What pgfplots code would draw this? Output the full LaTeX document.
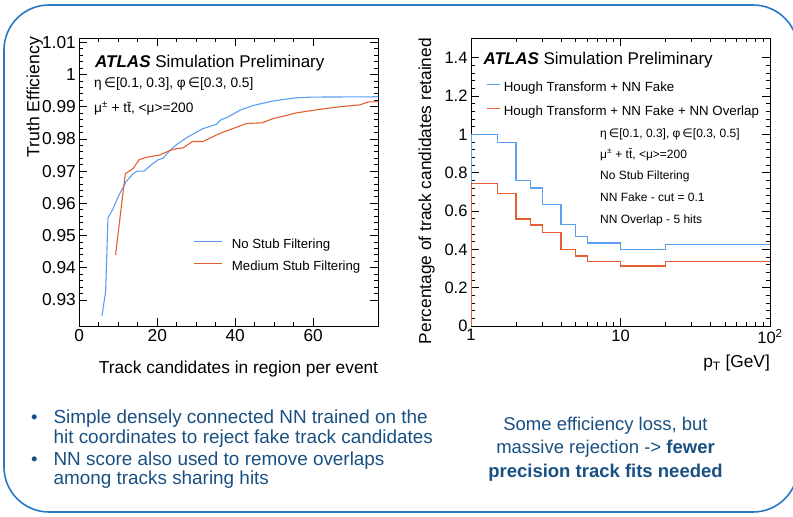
\documentclass[border=0pt]{standalone}
\usepackage{fontspec}
\setmainfont{Liberation Sans}
\newfontfamily\dejavu{DejaVu Sans}
\usepackage{pgfplots}
\pgfplotsset{compat=1.18}
\definecolor{rootblue}{RGB}{90,160,240}
\definecolor{rootred}{RGB}{228,95,48}
\definecolor{slideblue}{RGB}{25,80,130}
\definecolor{framecol}{RGB}{40,120,195}
\newcommand{\fs}[1]{\fontsize{#1}{#1}\selectfont}
\pgfplotsset{rootstyle/.style={
  scale only axis, tick align=inside,
  major tick length=8pt, minor tick length=4pt,
  axis line style={line width=0.9pt},
  every tick/.style={black, line width=0.8pt},
  tick label style={font=\fs{16.5}},
  /pgf/number format/assume math mode=true,
  legend cell align=left,
}}
\begin{document}
\begin{tikzpicture}
\useasboundingbox (0pt,0pt) rectangle (793pt,517pt);
\begin{scope}
\clip (0pt,0pt) rectangle (793pt,517pt);
\draw[framecol, line width=1.6pt, rounded corners=45pt] (4pt,5pt) rectangle (798pt,512pt);
\end{scope}

% ---------------- left plot ----------------
\begin{axis}[rootstyle,
  at={(79.3pt,191pt)}, anchor=south west, width=299pt, height=287.5pt,
  xmin=0, xmax=76.7, ymin=0.9219, ymax=1.0112,
  tick label style={font=\fs{17.3}},
  xtick={0,20,40,60}, minor x tick num=3,
  ytick={0.93,0.94,0.95,0.96,0.97,0.98,0.99,1,1.01},
  yticklabels={0.93,0.94,0.95,0.96,0.97,0.98,0.99,1,1.01},
  minor y tick num=4,
  legend style={draw=none, fill=none, inner sep=0pt, outer sep=0pt,
    at={(rel axis cs:0.383,0.2427)}, anchor=west,
    font=\fs{13.2}, row sep=9pt, column sep=9pt,
    nodes={inner sep=0pt, text height=10pt, text depth=3pt}},
]
\addplot[rootblue, line width=1.1pt, forget plot] coordinates {
(5.8,0.9250) (6.75,0.9325) (7.35,0.9554) (8.6,0.9582) (10.2,0.9626)
(12.05,0.9668) (13.8,0.9692) (14.8,0.9700) (16.6,0.9700) (18.5,0.9720)
(20.3,0.9736) (21.5,0.9740) (23.3,0.9765) (24.9,0.9782) (27.4,0.9803)
(29.6,0.9818) (31.7,0.9832) (35.1,0.9845) (36.4,0.9860) (37.8,0.9866)
(41.2,0.9889) (44.6,0.9904) (49.7,0.9918) (55.7,0.9928) (60,0.9930) (76.7,0.9931)};
\addplot[rootred, line width=1.1pt, forget plot] coordinates {
(9.3,0.9440) (11.8,0.9692) (13.8,0.9708) (15.3,0.9735) (17.2,0.9743)
(20.6,0.9750) (23.2,0.9764) (24.9,0.9770) (26.6,0.9772) (29.0,0.9792)
(31.7,0.9792) (36.0,0.9817) (42.9,0.9848) (44.6,0.9849) (46.8,0.9850)
(49.7,0.9863) (55.7,0.9881) (61.7,0.9892) (66.8,0.9900) (72.0,0.9906)
(74.1,0.9915) (76.7,0.9915)};
\addlegendimage{legend image code/.code={\draw[draw=rootblue, line width=1.1pt] (0pt,4pt) -- (28pt,4pt);}}
\addlegendentry{No Stub Filtering}
\addlegendimage{legend image code/.code={\draw[draw=rootred, line width=1.1pt] (0pt,4pt) -- (28pt,4pt);}}
\addlegendentry{Medium Stub Filtering}
\end{axis}

% ---------------- right plot ----------------
\begin{axis}[rootstyle,
  at={(471pt,191pt)}, anchor=south west, width=299pt, height=287.5pt,
  xmode=log, xmin=1, xmax=100, ymin=0, ymax=1.5,
  xtick={1,10,100}, xticklabels={1,10,10\textsuperscript{2}},
  ytick={0,0.2,0.4,0.6,0.8,1,1.2,1.4},
  yticklabels={0,0.2,0.4,0.6,0.8,1,1.2,1.4},
  minor y tick num=4,
  legend style={draw=none, fill=none, inner sep=0pt, outer sep=0pt,
    at={(rel axis cs:0.05,0.785)}, anchor=west,
    font=\fs{13.3}, row sep=11pt, column sep=3.7pt,
    nodes={inner sep=0pt, text height=10pt, text depth=3pt}},
]
\addplot[rootblue, line width=1.1pt, const plot mark right, forget plot] coordinates {
(1,0) (1.5,0.997) (2,0.959) (2.5,0.757) (3,0.720) (4,0.633) (5,0.531)
(6,0.469) (10,0.433) (20,0.397) (100,0.426)};
\addplot[rootred, line width=1.1pt, const plot mark right, forget plot] coordinates {
(1,0) (1.5,0.743) (2,0.690) (2.5,0.558) (3,0.527) (4,0.487) (5,0.400)
(6,0.365) (10,0.337) (20,0.313) (100,0.337)};
\addlegendimage{legend image code/.code={\draw[draw=rootblue, line width=1.1pt] (0pt,4pt) -- (13pt,4pt);}}
\addlegendentry{Hough Transform + NN Fake}
\addlegendimage{legend image code/.code={\draw[draw=rootred, line width=1.1pt] (0pt,4pt) -- (13pt,4pt);}}
\addlegendentry{Hough Transform + NN Fake + NN Overlap}
\end{axis}

% ---------------- plot texts ----------------
\node[anchor=base west, inner sep=0] at (95pt,449.7pt) {\fs{17}\textbf{\textit{ATLAS}} Simulation Preliminary};
\node[anchor=base west, inner sep=0] at (94pt,429.7pt) {\fs{13.7}η\,{\dejavu ∈}[0.1, 0.3], φ\,{\dejavu ∈}[0.3, 0.5]};
\node[anchor=base west, inner sep=0] at (94pt,404.3pt) {\fs{13.7}μ\textsuperscript{±} + t\={t}, <μ>=200};

\node[anchor=base west, inner sep=0] at (483.3pt,452pt) {\fs{17}\textbf{\textit{ATLAS}} Simulation Preliminary};
\node[anchor=base west, inner sep=0] at (600pt,379.7pt) {\fs{12}η\,{\dejavu ∈}[0.1, 0.3], φ\,{\dejavu ∈}[0.3, 0.5]};
\node[anchor=base west, inner sep=0] at (600pt,358.7pt) {\fs{12}μ\textsuperscript{±} + t\={t}, <μ>=200};
\node[anchor=base west, inner sep=0] at (600pt,337pt) {\fs{12}No Stub Filtering};
\node[anchor=base west, inner sep=0] at (600pt,315.3pt) {\fs{12}NN Fake - cut = 0.1};
\node[anchor=base west, inner sep=0] at (600pt,293.7pt) {\fs{12}NN Overlap - 5 hits};

\node[anchor=base east, inner sep=0] at (378.3pt,143.7pt) {\fs{17.3}Track candidates in region per event};
\node[rotate=90, anchor=base east, inner sep=0] at (39.5pt,480pt) {\fs{17.6}Truth Efficiency};
\node[rotate=90, anchor=base east, inner sep=0] at (431pt,479pt) {\fs{17.3}Percentage of track candidates retained};
\node[anchor=base east, inner sep=0] at (770pt,149pt) {\fs{17.3}p\textsubscript{T} [GeV]};

% ---------------- slide texts ----------------
\begin{scope}[every node/.style={inner sep=0, text=slideblue, font=\fs{18.5}}]
\node[anchor=base west] at (31pt,93.7pt) {•};
\node[anchor=base west, font=\fs{18.9}] at (53.4pt,93.7pt) {Simple densely connected NN trained on the};
\node[anchor=base west, font=\fs{18.9}] at (53.4pt,73.7pt) {hit coordinates to reject fake track candidates};
\node[anchor=base west] at (31pt,51pt) {•};
\node[anchor=base west, font=\fs{18.9}] at (53.4pt,51pt) {NN score also used to remove overlaps};
\node[anchor=base west, font=\fs{18.9}] at (53.4pt,32pt) {among tracks sharing hits};
\node[anchor=base] at (605.5pt,86.3pt) {Some efficiency loss, but};
\node[anchor=base] at (605.5pt,63.7pt) {massive rejection -> \textbf{fewer}};
\node[anchor=base] at (605.5pt,39.7pt) {\textbf{precision track fits needed}};
\end{scope}
\end{tikzpicture}
\end{document}
